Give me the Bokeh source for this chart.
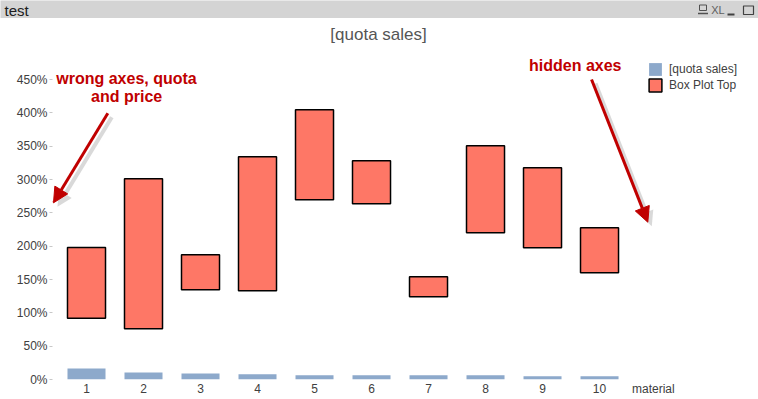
from bokeh.plotting import figure
from bokeh.models import (ColumnDataSource, Range1d, FixedTicker, Legend, LegendItem,
                          Arrow, NormalHead, Label)
from bokeh.layouts import column
from bokeh.core.properties import value
from bokeh.embed import file_html
from bokeh.resources import INLINE

# ---------------- data ----------------
materials = [1, 2, 3, 4, 5, 6, 7, 8, 9, 10]
quota_sales = [16.5, 10.5, 9, 8, 6.5, 6.5, 6.5, 6.5, 5, 5]          # percent
box_low = [92, 76, 134.5, 133, 269.5, 263.5, 124, 220, 197.5, 160]  # percent
box_high = [198, 301, 187, 334, 404.5, 328, 154, 350.5, 317.5, 227.5]

y_ticks = [0, 50, 100, 150, 200, 250, 300, 350, 400, 450]
y_tick_labels = ["0%", "50%", "100%", "150%", "200%", "250%", "300%", "350%", "400%", "450%"]
x_ticks = materials + [10.944]
x_tick_labels = [str(m) for m in materials] + ["material"]

series_names = ["[quota sales]", "Box Plot Top"]
chart_title = "[quota sales]"
window_title = "test"

FONT = "Liberation Sans"
BLUE = "#8DA9CB"
SALMON = "#FE7766"
RED = "#C00000"
LEFT = 52

# ---------------- title bar ----------------
tb = figure(width=758, height=18, x_range=Range1d(0, 758), y_range=Range1d(0, 18),
            output_backend="svg", toolbar_location=None,
            min_border_left=0, min_border_right=0, min_border_top=0, min_border_bottom=0,
            x_axis_type=None, y_axis_type=None,
            background_fill_color="#D4D4D4", border_fill_color="#D4D4D4",
            outline_line_color=None)
if hasattr(tb, "frame_align"):
    tb.frame_align = False
tb.text(x=[4], y=[8], text=[window_title], text_font=value(FONT), text_font_size="15px",
        text_color="#202020", text_baseline="middle", text_align="left")
tb.text(x=[717.5], y=[9], text=["XL"], text_font=value(FONT), text_font_size="11px",
        text_color="#606060", text_baseline="middle", text_align="center")
tb.quad(left=[699], right=[706], bottom=[8], top=[13.5], fill_color=None,
        line_color="#505050", line_width=1)
tb.segment(x0=[697.5], y0=[5], x1=[707.5], y1=[5], line_color="#505050", line_width=1.5)
tb.quad(left=[727], right=[734], bottom=[3], top=[5], fill_color="#404040", line_color=None)
tb.quad(left=[743], right=[753], bottom=[4], top=[12.5], fill_color=None,
        line_color="#404040", line_width=1.2)

# ---------------- main chart ----------------
p = figure(width=758, height=381, x_range=Range1d(0.4035, 12.789), y_range=Range1d(0, 541.5),
           output_backend="svg", toolbar_location=None,
           min_border_left=LEFT, min_border_right=0, min_border_top=0, min_border_bottom=20,
           background_fill_color="white", border_fill_color="white",
           outline_line_color=None)
if hasattr(p, "frame_align"):
    p.frame_align = False
p.grid.visible = False

src = ColumnDataSource(dict(material=materials, quota=quota_sales, low=box_low, high=box_high))
r_q = p.vbar(x="material", top="quota", bottom=0, width=0.667, source=src,
             fill_color=BLUE, line_color=None)
r_b = p.vbar(x="material", bottom="low", top="high", width=0.667, source=src,
             fill_color=SALMON, line_color="black", line_width=1.5)

legend = Legend(items=[LegendItem(label=series_names[0], renderers=[r_q]),
                       LegendItem(label=series_names[1], renderers=[r_b])],
                location=(595, 286), orientation="vertical",
                glyph_width=16, glyph_height=16, label_height=16,
                spacing=0, padding=0, margin=0, label_standoff=6,
                label_text_font=FONT, label_text_font_size="12px",
                label_text_color="#404040", border_line_color=None,
                background_fill_alpha=0)
p.add_layout(legend)

# chart title
p.add_layout(Label(x=6.123, y=517.5, text=chart_title, text_font=FONT,
                   text_font_size="17px", text_color="#555555", text_align="center",
                   text_baseline="middle"))

# red annotations
for tx, ty, tt in [(1.702, 452, "wrong axes, quota"), (1.705, 424.5, "and price"),
                   (9.574, 471, "hidden axes")]:
    p.add_layout(Label(x=tx, y=ty, text=tt, text_font=FONT, text_font_size="16px",
                       text_font_style="bold", text_color=RED, text_align="center",
                       text_baseline="middle"))

arrows = [(1.374, 399.5, 0.421, 265.0), (9.86, 450.0, 10.847, 236.0)]
for xs, ys, xe, ye in arrows:
    p.add_layout(Arrow(end=NormalHead(size=15, fill_color="#808080", fill_alpha=0.3,
                                      line_color=None),
                       x_start=xs + 0.07, y_start=ys - 6, x_end=xe + 0.07, y_end=ye - 6,
                       line_color="#808080", line_alpha=0.3, line_width=4))
    p.add_layout(Arrow(end=NormalHead(size=15, fill_color=RED, line_color=RED),
                       x_start=xs, y_start=ys, x_end=xe, y_end=ye,
                       line_color=RED, line_width=3))

# axes
p.yaxis.ticker = FixedTicker(ticks=y_ticks)
p.yaxis.major_label_overrides = dict(zip(y_ticks, y_tick_labels))
p.yaxis.axis_line_color = None
p.yaxis.major_tick_line_color = "#C8C8C8"
p.yaxis.major_tick_in = 0
p.yaxis.major_tick_out = 3
p.yaxis.minor_tick_line_color = None
p.yaxis.major_label_standoff = 2
p.yaxis.major_label_text_font = FONT
p.yaxis.major_label_text_font_size = "12px"
p.yaxis.major_label_text_color = "#404040"

p.xaxis.ticker = FixedTicker(ticks=x_ticks)
p.xaxis.major_label_overrides = dict(zip(x_ticks, x_tick_labels))
p.xaxis.axis_line_color = None
p.xaxis.major_tick_line_color = None
p.xaxis.major_tick_in = 0
p.xaxis.major_tick_out = 0
p.xaxis.minor_tick_line_color = None
p.xaxis.major_label_standoff = 2
p.xaxis.major_label_text_font = FONT
p.xaxis.major_label_text_font_size = "12px"
p.xaxis.major_label_text_color = "#404040"

layout = column(tb, p, spacing=0)
open("out.html", "w").write(file_html(layout, INLINE))
